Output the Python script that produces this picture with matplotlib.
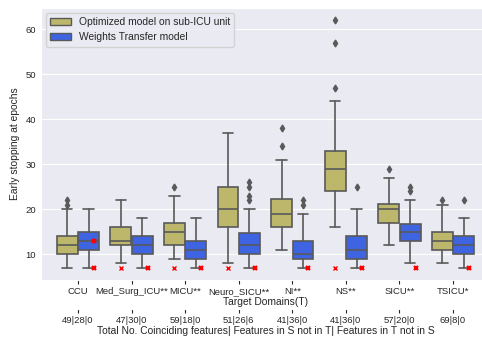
import numpy as np
import matplotlib
matplotlib.use("Agg")
import matplotlib.pyplot as plt
from matplotlib.patches import Patch
import seaborn as sns

# ---------- DATA ----------
categories = ["CCU", "Med_Surg_ICU**", "MICU**", "Neuro_SICU**", "NI**", "NS**", "SICU**", "TSICU*"]
feature_labels = ["49|28|0", "47|30|0", "59|18|0", "51|26|6", "41|36|0", "41|36|0", "57|20|0", "69|8|0"]

# Optimized model on sub-ICU unit
opt_whislo = [7, 8, 9, 8, 11, 16, 12, 8]
opt_q1 = [10, 12, 12, 16, 16, 24, 17, 11]
opt_med = [12, 13, 15, 20, 19, 29, 20, 13]
opt_q3 = [14, 16, 17, 25, 22.25, 33, 21.25, 15]
opt_whishi = [20, 22, 23, 37, 31, 44, 27, 21]
opt_fliers = [[21, 22], [], [25], [], [34, 38], [47, 57, 62], [29], [22]]

# Weights Transfer model
wt_whislo = [7, 7, 7, 7, 7, 7, 8, 7]
wt_q1 = [11, 10, 9, 10, 9, 9, 13, 10]
wt_med = [13, 12, 11, 12, 10, 11, 15, 12]
wt_q3 = [15, 14, 13, 14.75, 13, 14, 16.75, 14]
wt_whishi = [20, 18, 18, 20, 19, 20, 22, 18]
wt_fliers = [[], [], [], [22, 23, 25, 26], [21, 22], [25], [24, 25], [22]]

# red x markers
opt_marks = [[], [7], [7], [7], [], [7], [], []]
wt_marks = [[7, 13], [7], [7], [7], [7], [7], [7], [7]]

# ---------- STYLE ----------
sns.set_style("darkgrid")
plt.rcParams["font.family"] = ["Liberation Sans", "DejaVu Sans"]
FS_TICK = 6.8
FS_LAB = 7.4
OLIVE = "#BDB76B"
BLUE = "#3E64E2"
GRAY = "#595959"


def make_stats(lo, q1, med, q3, hi, fl):
    return [dict(whislo=a, q1=b, med=c, q3=d, whishi=e, fliers=f)
            for a, b, c, d, e, f in zip(lo, q1, med, q3, hi, fl)]


fig = plt.figure(figsize=(4.82, 3.37), dpi=100)
ax = fig.add_axes([41 / 482, 1 - 280 / 337, (490 - 41) / 482, (280 - 8) / 337])

x = np.arange(len(categories))
width = 0.39
line_kw = dict(color=GRAY, linewidth=1.2)
series = [
    (make_stats(opt_whislo, opt_q1, opt_med, opt_q3, opt_whishi, opt_fliers), OLIVE, -0.2),
    (make_stats(wt_whislo, wt_q1, wt_med, wt_q3, wt_whishi, wt_fliers), BLUE, 0.2),
]
for stats, col, off in series:
    ax.bxp(stats, positions=x + off, widths=width, patch_artist=True,
           boxprops=dict(facecolor=col, edgecolor=GRAY, linewidth=1.2),
           medianprops=line_kw, whiskerprops=line_kw, capprops=line_kw,
           flierprops=dict(marker="d", markersize=3.5, markerfacecolor=GRAY,
                           markeredgecolor=GRAY, linestyle="none"),
           manage_ticks=False)

for i in range(len(categories)):
    for v in opt_marks[i]:
        ax.plot(i - 0.2, v, "x", color="red", ms=3, mew=1.0, zorder=5)
    for v in wt_marks[i]:
        ax.plot(i + 0.3, v, "x", color="red", ms=3.5, mew=1.6, zorder=5)

ax.set_xlim(-0.69, len(categories) - 1 + 0.69)
ax.set_xticks(x)
ax.set_xticklabels(categories)
ax.xaxis.grid(False)
ax.tick_params(axis="x", bottom=True, length=3, width=0.8, color=".15", pad=2, labelsize=FS_TICK)
ax.tick_params(axis="y", left=False, length=0, pad=3.5, labelsize=FS_TICK)
ax.set_xlabel("Target Domains(T)", fontsize=FS_LAB, labelpad=1)
ax.set_ylabel("Early stopping at epochs", fontsize=FS_LAB, labelpad=4)

ax2 = ax.twiny()
ax2.grid(False)
ax2.set_xlim(ax.get_xlim())
ax2.set_xticks(x)
ax2.set_xticklabels(feature_labels)
ax2.xaxis.set_ticks_position("bottom")
ax2.xaxis.set_label_position("bottom")
ax2.spines["bottom"].set_position(("outward", 21))
ax2.tick_params(axis="x", bottom=True, top=False, length=3, width=0.8, color=".15", pad=2,
                labelsize=FS_TICK)
ax2.set_xlabel("Total No. Coinciding features| Features in S not in T| Features in T not in S",
               fontsize=FS_LAB, labelpad=1)

handles = [Patch(facecolor=OLIVE, edgecolor=GRAY, linewidth=1.0, label="Optimized model on sub-ICU unit"),
           Patch(facecolor=BLUE, edgecolor=GRAY, linewidth=1.0, label="Weights Transfer model")]
ax.legend(handles=handles, loc="upper left", fontsize=FS_LAB)

fig.savefig("out.png", dpi=100)
